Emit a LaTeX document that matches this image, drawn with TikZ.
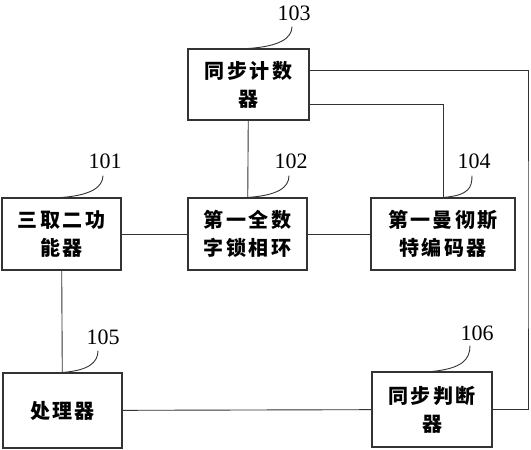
\documentclass[tikz,border=0pt]{standalone}
\usepackage{fontspec}
\setmainfont{Liberation Serif}
\newfontfamily\cjkfont[LetterSpace=12]{Noto Sans CJK SC}
\usetikzlibrary{positioning}
\definecolor{wire}{HTML}{333333}

\begin{document}
\begin{tikzpicture}[x=1pt, y=-1pt,
        blk/.style={rectangle, draw=wire, line width=1.1pt, minimum height=72pt, inner sep=0pt,
                    align=center, font=\cjkfont\bfseries\fontsize{20}{28}\selectfont},
        tag/.style={font=\fontsize{22}{22}\selectfont, inner sep=2pt},
        lead/.style={wire, line width=0.9pt},
        link/.style={wire, line width=0.9pt}
      ]
        \useasboundingbox (0,0) rectangle (531,450);
        \node[blk, minimum width=119pt] (n101) at (61.5,234) {三取二功\\能器};
        \node[blk, minimum width=119pt] (n102) at (247.5,234) {第一全数\\字锁相环};
        \node[blk, minimum width=121pt, minimum height=71pt] (n103) at (248.5,84.5) {同步计数\\器};
        \node[blk, minimum width=144pt] (n104) at (443,234) {第一曼彻斯\\特编码器};
        \node[blk, minimum width=119pt, minimum height=75pt] (n105) at (62.5,410.5) {处理器};
        \node[blk, minimum width=120pt, minimum height=75pt] (n106) at (432,409.5) {同步判断\\器};
        \node[tag] (l101) at (105,161) {101};
        \node[tag] (l102) at (291,161) {102};
        \node[tag] (l103) at (294,13) {103};
        \node[tag] (l104) at (474,161) {104};
        \node[tag] (l105) at (103,337) {105};
        \node[tag] (l106) at (477,333) {106};
        \coordinate (rt) at (528,250);
        \draw[lead] (n101.north) .. controls +(28,-2) and +(0,12) .. ([xshift=-2pt,yshift=-5pt]l101.south);
        \draw[lead] (n102.north) .. controls +(30,-2) and +(0,12) .. ([xshift=-2pt,yshift=-5pt]l102.south);
        \draw[lead] (n103.north) .. controls +(30,-2) and +(0,12) .. ([xshift=-2pt,yshift=-4pt]l103.south);
        \draw[lead] (n104.north) .. controls +(26,-2) and +(0,12) .. ([xshift=-2pt,yshift=-5pt]l104.south);
        \draw[lead] (n105.north) .. controls +(26,-2) and +(0,12) .. ([xshift=-5pt,yshift=-4pt]l105.south);
        \draw[lead] (n106.north) .. controls +(30,-3) and +(0,14) .. ([xshift=-7pt,yshift=-3pt]l106.south);
        \draw[link] (n101) -- (n102);
        \draw[link] (n102) -- (n104);
        \draw[link] (n103) -- (n102);
        \draw[link] (n101) -- (n105);
        \draw[link] (n105) -- (n106);
        \draw[link] ([yshift=-19.5pt]n103.east) -| (n104.north);
        \draw[link] ([yshift=14.5pt]n103.east) -| (rt) |- (n106.east);
      \end{tikzpicture}
\end{document}
